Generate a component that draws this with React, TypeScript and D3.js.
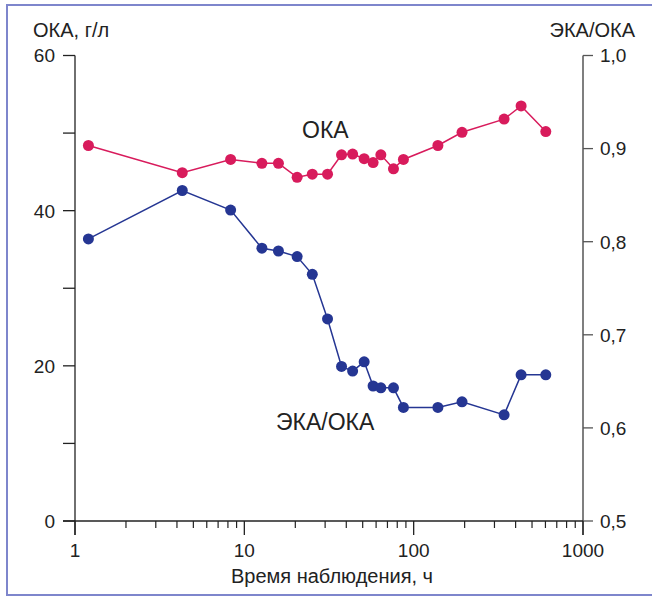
import React from "react";
import * as d3 from "d3";

const times = [1.2, 4.3, 8.3, 12.7, 15.9, 20.5, 25.2, 31, 37.5, 43.6, 51, 57.6, 64, 76, 87, 139, 193, 342, 431, 603];
const okaValues = [48.4, 44.9, 46.6, 46.1, 46.1, 44.3, 44.7, 44.7, 47.2, 47.3, 46.7, 46.2, 47.2, 45.4, 46.6, 48.4, 50.1, 51.8, 53.5, 50.2];
const ratioValues = [0.803, 0.855, 0.834, 0.793, 0.79, 0.784, 0.765, 0.717, 0.666, 0.661, 0.671, 0.645, 0.643, 0.643, 0.622, 0.622, 0.628, 0.614, 0.657, 0.657];
const leftTicks = [0, 10, 20, 30, 40, 50, 60];
const leftLabels = [0, 20, 40, 60];
const rightTicks = [0.5, 0.6, 0.7, 0.8, 0.9, 1.0];
const xMajor = [1, 10, 100, 1000];

const RED = "#d81b5c";
const BLUE = "#253693";
const FONT = "'Liberation Sans', Arial, sans-serif";

export default function App() {
  const W = 652, H = 597;
  const x = d3.scaleLog().domain([1, 1000]).range([75, 583]);
  const yL = d3.scaleLinear().domain([0, 60]).range([521, 55.5]);
  const yR = d3.scaleLinear().domain([0.5, 1.0]).range([521, 55.5]);
  const xMinor: number[] = [];
  [1, 10, 100].forEach((d) => { for (let k = 2; k <= 9; k++) xMinor.push(d * k); });

  const okaLine = d3.line<number>().x((_, i) => x(times[i])).y((d) => yL(d));
  const ratioLine = d3.line<number>().x((_, i) => x(times[i])).y((d) => yR(d));
  const fmt = (v: number) => v.toFixed(1).replace(".", ",");

  return (
    <svg width={W} height={H} style={{ position: "absolute", left: 0, top: 0, background: "#fff" }} fontFamily={FONT}>
      <rect x={0} y={0} width={W} height={H} fill="#fff" />
      {/* frame */}
      <line x1={6} x2={W} y1={5} y2={5} stroke="#7e86cc" strokeWidth={2} />
      <line x1={7} x2={7} y1={4} y2={596} stroke="#7e86cc" strokeWidth={2} />
      <line x1={6} x2={W} y1={595} y2={595} stroke="#7e86cc" strokeWidth={2} />

      {/* axes */}
      <line x1={75} x2={75} y1={yL(60)} y2={535} stroke="#222" strokeWidth={1.3} />
      <line x1={583} x2={583} y1={yR(1)} y2={535} stroke="#555" strokeWidth={1.5} />
      <line x1={63} x2={583} y1={yL(0)} y2={yL(0)} stroke="#222" strokeWidth={1.3} />
      {leftTicks.map((t) => (
        <line key={"lt" + t} x1={63} x2={75} y1={yL(t)} y2={yL(t)} stroke="#222" strokeWidth={1.3} />
      ))}
      {leftLabels.map((t) => (
        <text key={"ll" + t} x={55} y={yL(t)} dy="0.36em" textAnchor="end" fontSize={19} fill="#222">{t}</text>
      ))}
      {rightTicks.map((t) => (
        <g key={"rt" + t}>
          <line x1={583} x2={593} y1={yR(t)} y2={yR(t)} stroke="#555" strokeWidth={1.3} />
          <text x={600} y={yR(t)} dy="0.36em" fontSize={19} fill="#222">{fmt(t)}</text>
        </g>
      ))}
      {xMinor.map((t) => (
        <line key={"xm" + t} x1={x(t)} x2={x(t)} y1={521} y2={528} stroke="#222" strokeWidth={1.2} />
      ))}
      {xMajor.map((t) => (
        <g key={"xM" + t}>
          <line x1={x(t)} x2={x(t)} y1={521} y2={535} stroke="#222" strokeWidth={1.3} />
          <text x={x(t)} y={557} textAnchor="middle" fontSize={19} fill="#222">{t}</text>
        </g>
      ))}

      {/* axis titles */}
      <text x={33} y={37} fontSize={20} fill="#222">ОКА, г/л</text>
      <text x={635} y={37} textAnchor="end" fontSize={20} fill="#222">ЭКА/ОКА</text>
      <text x={332} y={583} textAnchor="middle" fontSize={20} fill="#222">Время наблюдения, ч</text>

      {/* series */}
      <path d={okaLine(okaValues) || ""} fill="none" stroke={RED} strokeWidth={1.5} />
      {okaValues.map((v, i) => (
        <circle key={"o" + i} cx={x(times[i])} cy={yL(v)} r={5.5} fill={RED} />
      ))}
      <path d={ratioLine(ratioValues) || ""} fill="none" stroke={BLUE} strokeWidth={1.5} />
      {ratioValues.map((v, i) => (
        <circle key={"r" + i} cx={x(times[i])} cy={yR(v)} r={5.5} fill={BLUE} />
      ))}

      <text x={302} y={138} fontSize={23} fill="#222">ОКА</text>
      <text x={276} y={430} fontSize={23} fill="#222">ЭКА/ОКА</text>
    </svg>
  );
}
